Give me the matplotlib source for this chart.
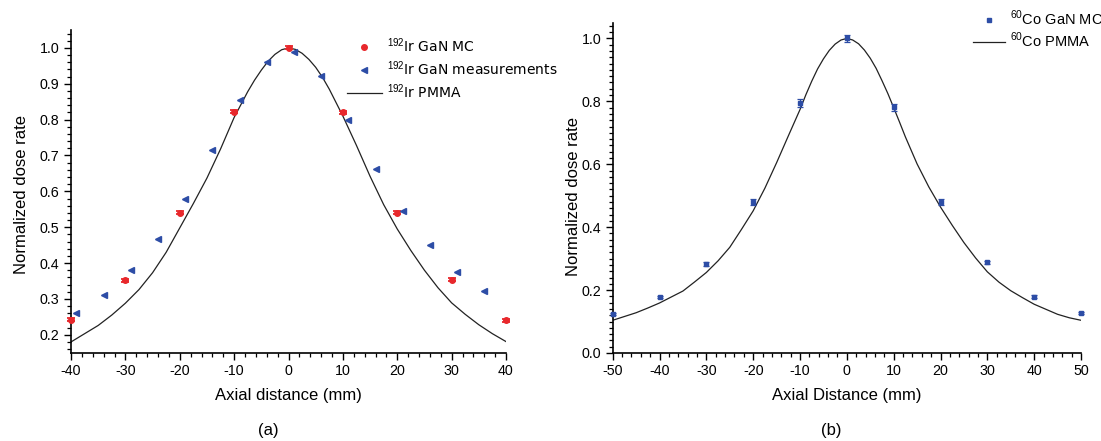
import matplotlib
matplotlib.use('Agg')
import matplotlib.pyplot as plt
from matplotlib.ticker import MultipleLocator, FormatStrFormatter

plt.rcParams['font.family'] = ['Liberation Sans', 'DejaVu Sans']
plt.rcParams['mathtext.fontset'] = 'custom'
plt.rcParams['mathtext.rm'] = 'Liberation Sans'
plt.rcParams['axes.unicode_minus'] = False

# ---------------- Panel (a): 192Ir ----------------
ir_mc_x = [-40, -30, -20, -10, 0, 10, 20, 30, 40]
ir_mc_y = [0.242, 0.352, 0.541, 0.822, 1.000, 0.820, 0.541, 0.353, 0.240]
ir_mc_err = [0.004, 0.004, 0.004, 0.004, 0.004, 0.004, 0.004, 0.004, 0.004]

ir_meas_x = [-39, -34, -29, -24, -19, -14, -9, -4, 1, 6, 11, 16, 21, 26, 31, 36]
ir_meas_y = [0.260, 0.311, 0.381, 0.468, 0.578, 0.715, 0.855, 0.962,
             0.990, 0.922, 0.800, 0.662, 0.544, 0.449, 0.376, 0.321]

ir_pmma_x = [-40, -37.5, -35, -32.5, -30, -27.5, -25, -22.5, -20, -17.5, -15,
             -12.5, -10, -7.5, -6.25, -5, -3.75, -2.5, -1.25, 0, 1.25, 2.5,
             3.75, 5, 6.25, 7.5, 10, 12.5, 15, 17.5, 20, 22.5, 25, 27.5, 30,
             32.5, 35, 37.5, 40]
ir_pmma_y = [0.180, 0.203, 0.226, 0.255, 0.288, 0.326, 0.373, 0.430, 0.498,
             0.566, 0.637, 0.718, 0.806, 0.878, 0.910, 0.938, 0.963, 0.982,
             0.995, 1.000, 0.996, 0.985, 0.968, 0.946, 0.918, 0.885, 0.810,
             0.728, 0.642, 0.563, 0.495, 0.435, 0.380, 0.331, 0.289, 0.257,
             0.228, 0.203, 0.181]

# ---------------- Panel (b): 60Co ----------------
co_mc_x = [-50, -40, -30, -20, -10, 0, 10, 20, 30, 40, 50]
co_mc_y = [0.123, 0.178, 0.282, 0.480, 0.795, 1.000, 0.781, 0.481, 0.288, 0.179, 0.127]
co_mc_err = [0.003, 0.004, 0.006, 0.009, 0.012, 0.012, 0.012, 0.009, 0.006, 0.004, 0.003]

co_pmma_x = [-50, -47.5, -45, -42.5, -40, -37.5, -35, -32.5, -30, -27.5, -25,
             -22.5, -20, -17.5, -15, -12.5, -11.25, -10, -8.75, -7.5, -6.25,
             -5, -3.75, -2.5, -1.25, 0, 1.25, 2.5, 3.75, 5, 6.25, 7.5, 8.75,
             10, 11.25, 12.5, 15, 17.5, 20, 22.5, 25, 27.5, 30, 32.5, 35,
             37.5, 40, 42.5, 45, 47.5, 50]
co_pmma_y = [0.104, 0.116, 0.128, 0.143, 0.159, 0.178, 0.197, 0.226, 0.256,
             0.293, 0.336, 0.393, 0.452, 0.524, 0.605, 0.690, 0.732, 0.774,
             0.821, 0.864, 0.903, 0.935, 0.962, 0.982, 0.995, 1.000, 0.995,
             0.983, 0.963, 0.937, 0.905, 0.866, 0.825, 0.780, 0.734, 0.687,
             0.601, 0.528, 0.464, 0.406, 0.351, 0.302, 0.258, 0.225, 0.198,
             0.176, 0.155, 0.139, 0.123, 0.112, 0.104]

RED = '#e8282c'
BLUE = '#2d4da6'

W, H = 1101, 441
fig = plt.figure(figsize=(W / 100, H / 100), dpi=100)


def rect(x0, x1, y0, y1):
    return [x0 / W, 1 - y1 / H, (x1 - x0) / W, (y1 - y0) / H]


ax1 = fig.add_axes(rect(71, 506, 30, 352.7))
ax2 = fig.add_axes(rect(612.7, 1081, 22.7, 353))

for ax in (ax1, ax2):
    for s in ('top', 'right'):
        ax.spines[s].set_visible(False)
    for s in ('left', 'bottom'):
        ax.spines[s].set_linewidth(1.2)
    ax.tick_params(which='major', direction='out', length=5, width=1.0,
                   labelsize=10.3, pad=3.2)
    ax.tick_params(which='minor', direction='out', length=2.8, width=0.9)
    ax.set_facecolor('none')

# ---- panel a
ax1.plot(ir_pmma_x, ir_pmma_y, color='#222222', lw=0.9, zorder=1,
         label=r'$^{192}$Ir PMMA')
ax1.errorbar(ir_mc_x, ir_mc_y, yerr=ir_mc_err, fmt='none', ecolor=RED,
             elinewidth=1.0, capsize=3, capthick=1.3, zorder=3, clip_on=False)
ax1.plot(ir_mc_x, ir_mc_y, 'o', color=RED, ms=4, mec=RED, zorder=4,
         clip_on=False, label=r'$^{192}$Ir GaN MC')
ax1.plot(ir_meas_x, ir_meas_y, '<', color=BLUE, ms=5, mec=BLUE, zorder=4,
         clip_on=False, label=r'$^{192}$Ir GaN measurements')

ax1.set_xlim(-40, 40)
ax1.set_ylim(0.15, 1.05)
ax1.xaxis.set_major_locator(MultipleLocator(10))
ax1.xaxis.set_minor_locator(MultipleLocator(2))
ax1.yaxis.set_major_locator(MultipleLocator(0.1))
ax1.yaxis.set_minor_locator(MultipleLocator(0.02))
ax1.yaxis.set_major_formatter(FormatStrFormatter('%.1f'))
ax1.set_xlabel('Axial distance (mm)', fontsize=12)
ax1.set_ylabel('Normalized dose rate', fontsize=12)
ax1.xaxis.set_label_coords((288.3 - 71) / 435, (352.7 - 388) / 322.7)
ax1.yaxis.set_label_coords((29 - 71) / 435, 0.49)

h, l = ax1.get_legend_handles_labels()
order = [1, 2, 0]
ax1.legend([h[i] for i in order], [l[i] for i in order],
           loc='upper left', bbox_to_anchor=(346.7 / W, 1 - 36 / H),
           bbox_transform=fig.transFigure, frameon=False, borderpad=0,
           borderaxespad=0, handlelength=2.55, handletextpad=0.32,
           labelspacing=0.33, prop={'family': ['DejaVu Sans'], 'size': 10})

# ---- panel b
ax2.plot(co_pmma_x, co_pmma_y, color='#222222', lw=0.9, zorder=1,
         label=r'$^{60}$Co PMMA')
ax2.errorbar(co_mc_x, co_mc_y, yerr=co_mc_err, fmt='none', ecolor=BLUE,
             elinewidth=0.9, capsize=2.5, capthick=0.9, zorder=3, clip_on=False)
ax2.plot(co_mc_x, co_mc_y, 's', color=BLUE, ms=3.3, mec=BLUE, zorder=4,
         clip_on=False, label=r'$^{60}$Co GaN MC')

ax2.set_xlim(-50, 50)
ax2.set_ylim(0.0, 1.05)
ax2.xaxis.set_major_locator(MultipleLocator(10))
ax2.xaxis.set_minor_locator(MultipleLocator(2))
ax2.yaxis.set_major_locator(MultipleLocator(0.2))
ax2.yaxis.set_minor_locator(MultipleLocator(0.02))
ax2.yaxis.set_major_formatter(FormatStrFormatter('%.1f'))
ax2.set_xlabel('Axial Distance (mm)', fontsize=12)
ax2.set_ylabel('Normalized dose rate', fontsize=12)
ax2.xaxis.set_label_coords(0.5, (353 - 388) / 330.3)
ax2.yaxis.set_label_coords((581 - 612.7) / 468.3, 0.475)

h, l = ax2.get_legend_handles_labels()
ax2.legend([h[1], h[0]], [l[1], l[0]],
           loc='upper left', bbox_to_anchor=(972.7 / W, 1 - 9 / H),
           bbox_transform=fig.transFigure, frameon=False, borderpad=0,
           borderaxespad=0, handlelength=2.2, handletextpad=0.37,
           labelspacing=0.15, prop={'size': 10.5})

fig.text(268 / W, 1 - 430 / H, '(a)', ha='center', va='center', fontsize=12)
fig.text(831 / W, 1 - 430 / H, '(b)', ha='center', va='center', fontsize=12)

fig.savefig('out.png', dpi=100)
